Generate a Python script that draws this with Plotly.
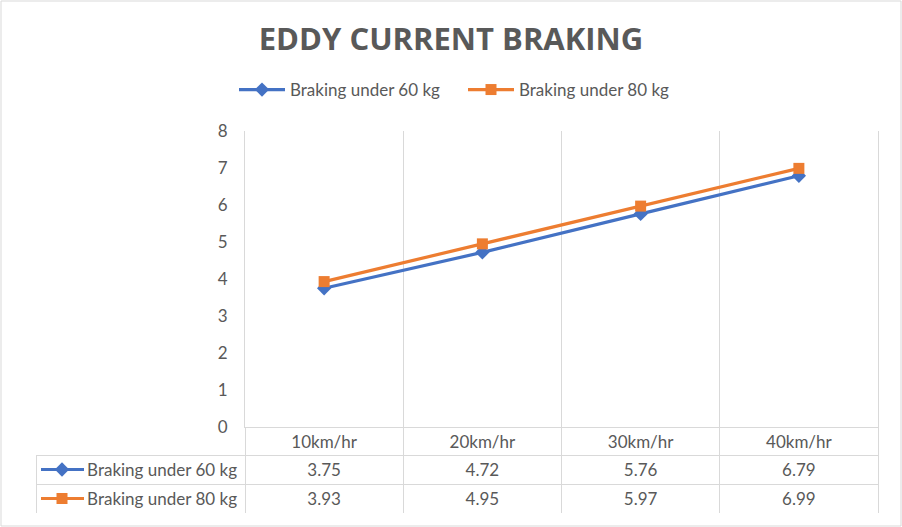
import plotly.graph_objects as go

categories = ["10km/hr", "20km/hr", "30km/hr", "40km/hr"]
series_names = ["Braking under 60 kg", "Braking under 80 kg"]
values_60 = [3.75, 4.72, 5.76, 6.79]
values_80 = [3.93, 4.95, 5.97, 6.99]
y_ticks = [0, 1, 2, 3, 4, 5, 6, 7, 8]

BLUE = "#4472C4"
ORANGE = "#ED7D31"
TXT = "#595959"
GRID = "#D9D9D9"
FONT = "Lato"

W, H = 902, 527
ML, MR, MT, MB = 36, 24, 131, 14
plot_left_px = 245
axis_bottom_px = 427
pw = W - ML - MR
ph = H - MT - MB
x_dom0 = (plot_left_px - ML) / pw
y_dom0 = (H - MB - axis_bottom_px) / ph
label_col_w = plot_left_px - ML
HEADER_H, ROW_H = 28, 29

fig = go.Figure()
fig.add_trace(go.Scatter(
    x=categories, y=values_60, name=series_names[0], mode="lines+markers",
    line=dict(color=BLUE, width=3.2),
    marker=dict(symbol="diamond", size=11, color=BLUE),
))
fig.add_trace(go.Scatter(
    x=categories, y=values_80, name=series_names[1], mode="lines+markers",
    line=dict(color=ORANGE, width=3.2),
    marker=dict(symbol="square", size=11, color=ORANGE),
))

# legend keys inside the data table's first column (own helper axes, in pixel-like units)
key_styles = [(BLUE, "diamond", 11), (ORANGE, "square", 11)]
for i, (col, sym, sz) in enumerate(key_styles):
    row_center = HEADER_H + ROW_H * i + ROW_H / 2
    fig.add_trace(go.Scatter(
        x=[5, 26, 48], y=[row_center] * 3, mode="lines",
        line=dict(color=col, width=3.2), showlegend=False, hoverinfo="skip",
        xaxis="x2", yaxis="y2",
    ))
    fig.add_trace(go.Scatter(
        x=[26], y=[row_center], mode="markers",
        marker=dict(symbol=sym, size=sz, color=col), showlegend=False, hoverinfo="skip",
        xaxis="x2", yaxis="y2",
    ))

col_values = [series_names] + [[f"{a:.2f}", f"{b:.2f}"] for a, b in zip(values_60, values_80)]

fig.add_trace(go.Table(
    domain=dict(x=[0, 1], y=[0, y_dom0]),
    columnwidth=[label_col_w] + [(W - MR - plot_left_px) / 4] * 4,
    header=dict(
        values=[""] + categories,
        height=HEADER_H,
        fill=dict(color="rgba(0,0,0,0)"),
        line=dict(color=["rgba(0,0,0,0)"] + [GRID] * 4, width=1),
        align="center",
        font=dict(family=FONT, size=17, color=TXT),
    ),
    cells=dict(
        values=col_values,
        height=ROW_H,
        fill=dict(color="rgba(0,0,0,0)"),
        line=dict(color=GRID, width=1),
        align=["right", "center", "center", "center", "center"],
        font=dict(family=FONT, size=17, color=TXT),
    ),
))

fig.update_layout(
    width=W, height=H,
    margin=dict(l=ML, r=MR, t=MT, b=MB, autoexpand=False),
    paper_bgcolor="white", plot_bgcolor="white",
    font=dict(family=FONT, color=TXT, size=16),
    title=dict(
        text="<b>EDDY CURRENT BRAKING</b>",
        font=dict(family="Open Sans", size=31, color=TXT),
        x=0.5, xref="container", xanchor="center",
        y=1 - 39 / H, yref="container", yanchor="middle",
    ),
    showlegend=True,
    legend=dict(
        orientation="h",
        x=(463 - ML) / pw, xanchor="center",
        y=1 + (MT - 90) / ph, yanchor="middle",
        font=dict(family=FONT, size=17, color=TXT),
        itemwidth=46,
        entrywidth=168, entrywidthmode="pixels",
        traceorder="normal",
    ),
    xaxis=dict(
        domain=[x_dom0, 1],
        type="category",
        range=[-0.5, 3.5],
        tickson="boundaries",
        showgrid=True, gridcolor=GRID, gridwidth=1,
        showticklabels=False, ticks="",
        showline=True, linecolor=GRID, linewidth=1,
        zeroline=False,
    ),
    yaxis=dict(
        domain=[y_dom0, 1],
        range=[0, 8],
        tickvals=y_ticks,
        showgrid=False,
        showline=True, linecolor=GRID, linewidth=1, mirror=True,
        ticks="",
        ticklabelstandoff=13,
        tickfont=dict(family=FONT, size=17, color=TXT),
        zeroline=False,
    ),
    xaxis2=dict(domain=[0, x_dom0], range=[0, label_col_w], visible=False, anchor="y2"),
    yaxis2=dict(domain=[0, y_dom0], range=[HEADER_H + 2 * ROW_H, 0], visible=False, anchor="x2"),
    shapes=[dict(
        type="rect", xref="paper", yref="paper",
        x0=-(ML - 1) / pw, x1=1 + (MR - 1) / pw,
        y0=-(MB - 1) / ph, y1=1 + (MT - 1) / ph,
        line=dict(color=GRID, width=1), fillcolor="rgba(0,0,0,0)", layer="below",
    )],
)

fig.write_html("out.html", config={"displayModeBar": False},
               post_script="document.body.style.margin='0';")
